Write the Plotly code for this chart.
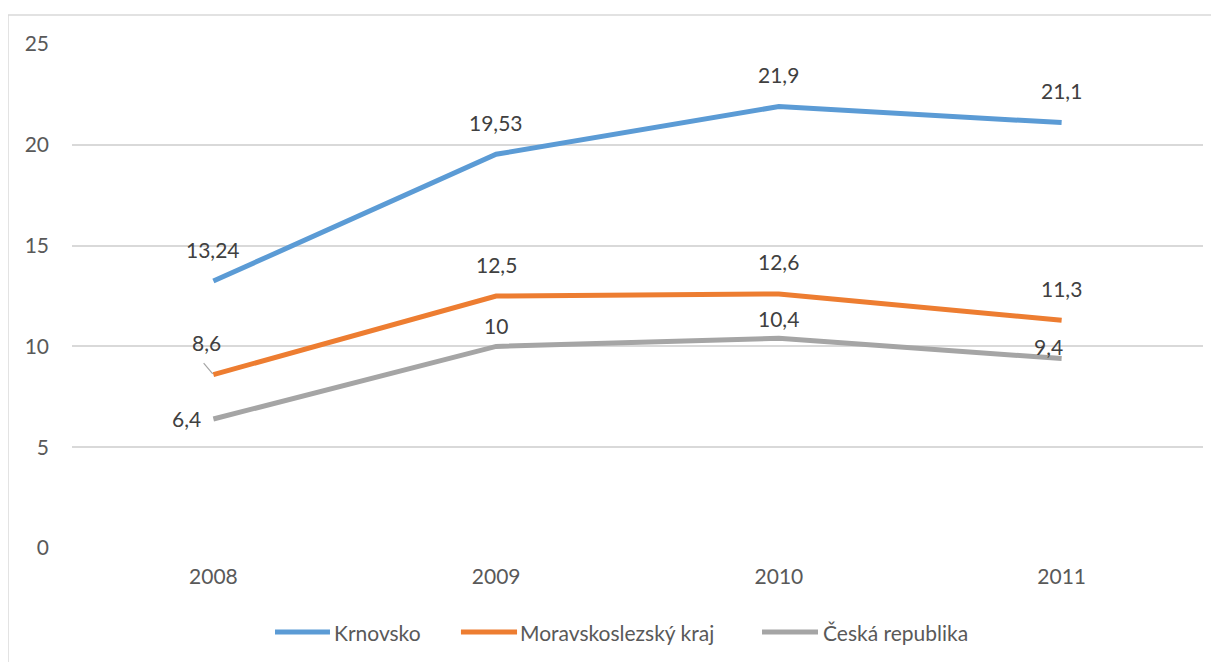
import plotly.graph_objects as go

years = ["2008", "2009", "2010", "2011"]
krnovsko = [13.24, 19.53, 21.9, 21.1]
msk = [8.6, 12.5, 12.6, 11.3]
cr = [6.4, 10.0, 10.4, 9.4]

krnovsko_lbl = ["13,24", "19,53", "21,9", "21,1"]
msk_lbl = ["8,6", "12,5", "12,6", "11,3"]
cr_lbl = ["6,4", "10", "10,4", "9,4"]

names = ["Krnovsko", "Moravskoslezský kraj", "Česká republika"]
colors = ["#5B9BD5", "#ED7D31", "#A5A5A5"]

FONT = "Lato"
TXT = "#595959"
fig = go.Figure()
for vals, name, col in zip([krnovsko, msk, cr], names, colors):
    fig.add_trace(go.Scatter(x=years, y=vals, name=name, mode="lines",
                             line=dict(color=col, width=5), hoverinfo="skip",
                             showlegend=False))

lab_font = dict(family=FONT, size=21, color="#404040")
specs = [
    (krnovsko, krnovsko_lbl, [(0, -32), (0, -32), (0, -32), (0, -32)]),
    (msk, msk_lbl, [(-7, -32), (0, -32), (0, -32), (0, -32)]),
    (cr, cr_lbl, [(-27, 0), (0, -21), (0, -20), (-13, -12)]),
]
for vals, lbls, offs in specs:
    for i, (v, t, (dx, dy)) in enumerate(zip(vals, lbls, offs)):
        fig.add_annotation(x=i, y=v, text=t, showarrow=False,
                           xshift=dx, yshift=-dy, font=lab_font)

# leader line for 8,6
fig.add_annotation(x=0, y=msk[0], text="", showarrow=True, ax=-11, ay=-13,
                   arrowhead=0, arrowwidth=1.2, arrowcolor="#A6A6A6", standoff=1)

# chart-area border
fig.add_shape(type="rect", xref="paper", yref="paper",
              x0=-0.0566, x1=1.2, y0=-0.5, y1=1.0575,
              line=dict(color="#D9D9D9", width=1.5), layer="below")

# legend (drawn like the Office legend: long line keys)
leg_y = -0.1667
leg_keys = [(0.1795, 0.2281, 0.2300), (0.3439, 0.3935, 0.3944), (0.6101, 0.6596, 0.6620)]
for (x0, x1, xt), name, col in zip(leg_keys, names, colors):
    fig.add_shape(type="line", xref="paper", yref="paper", x0=x0, x1=x1, y0=leg_y, y1=leg_y,
                  line=dict(color=col, width=5))
    fig.add_annotation(xref="paper", yref="paper", x=xt, y=leg_y, text=name,
                       showarrow=False, xanchor="left", yanchor="middle",
                       font=dict(family=FONT, size=21, color=TXT))

fig.update_layout(
    width=1219, height=662,
    margin=dict(l=64, r=24, t=36, b=122),
    paper_bgcolor="white", plot_bgcolor="white",
    font=dict(family=FONT, size=21, color=TXT),
    showlegend=False,
    xaxis=dict(type="category", range=[-0.5, 3.5], showgrid=False, zeroline=False,
               showline=False, ticks="", ticklabelstandoff=14,
               tickfont=dict(family=FONT, size=21, color=TXT)),
    yaxis=dict(range=[0, 25], dtick=5, showgrid=True, gridcolor="#D9D9D9", gridwidth=1.5,
               zeroline=False, showline=False, ticks="", ticklabelstandoff=22,
               tickfont=dict(family=FONT, size=21, color=TXT)),
)

fig.write_html("out.html")
